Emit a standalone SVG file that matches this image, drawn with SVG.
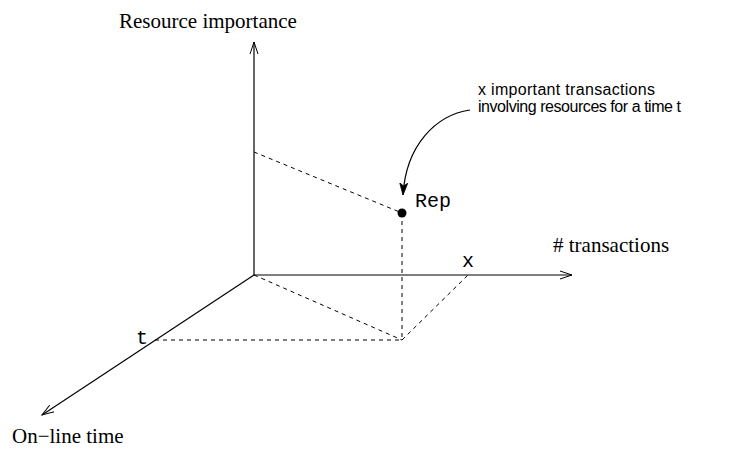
<svg xmlns="http://www.w3.org/2000/svg" width="742" height="449" viewBox="0 0 742 449">
  <style>
    .axis { stroke: #000; stroke-width: 1.2; fill: none; }
    .dash { stroke: #000; stroke-width: 1; fill: none; stroke-dasharray: 4 4; }
    .serif { font-family: "Liberation Serif", "Times New Roman", serif; font-size: 21px; fill: #000; }
    .mono { font-family: "Liberation Mono", "Courier New", monospace; font-size: 20px; fill: #000; }
    .sans { font-family: "Liberation Sans", Arial, sans-serif; font-size: 16px; fill: #000; }
  </style>
  <defs>
    <marker id="open-arrow" markerWidth="14" markerHeight="10" refX="12" refY="5" orient="auto" markerUnits="userSpaceOnUse">
      <path d="M0,1 L12,5 L0,9" fill="none" stroke="#000" stroke-width="1"/>
    </marker>
    <marker id="solid-arrow" markerWidth="14" markerHeight="10" refX="12" refY="5" orient="auto" markerUnits="userSpaceOnUse">
      <path d="M0,1 L12,5 L0,9 L3,5 Z" fill="#000" stroke="#000" stroke-width="0.8"/>
    </marker>
  </defs>

  <g id="axes">
    <line class="axis" x1="254" y1="275" x2="254" y2="42" marker-end="url(#open-arrow)"/>
    <line class="axis" x1="254" y1="275" x2="572" y2="275" marker-end="url(#open-arrow)"/>
    <line class="axis" x1="254" y1="275" x2="42" y2="415" marker-end="url(#open-arrow)"/>
  </g>

  <g id="connectors">
    <line class="dash" x1="254" y1="152" x2="402" y2="213"/>
    <line class="dash" x1="402" y1="213" x2="402" y2="340"/>
    <line class="dash" x1="254" y1="275" x2="402" y2="340"/>
    <line class="dash" x1="402" y1="340" x2="468" y2="275"/>
    <line class="dash" x1="155" y1="340" x2="402" y2="340"/>
    <path class="axis" d="M470,110 C436,115 406,145 403,195" marker-end="url(#solid-arrow)"/>
  </g>

  <g id="rep">
    <circle cx="402" cy="213" r="4.5" fill="#000"/>
    <text class="mono" x="415" y="207">Rep</text>
  </g>

  <g id="labels">
    <text class="serif" x="119" y="28">Resource importance</text>
    <text class="serif" x="553" y="252"># transactions</text>
    <text class="serif" x="12" y="443">On−line time</text>
    <text class="mono" x="136" y="344">t</text>
    <text class="mono" x="462" y="267">x</text>
  </g>

  <g id="note">
    <text class="sans" x="478" y="95" textLength="177" lengthAdjust="spacing">x important transactions</text>
    <text class="sans" x="478" y="112" textLength="203" lengthAdjust="spacing">involving resources for a time t</text>
  </g>
</svg>
